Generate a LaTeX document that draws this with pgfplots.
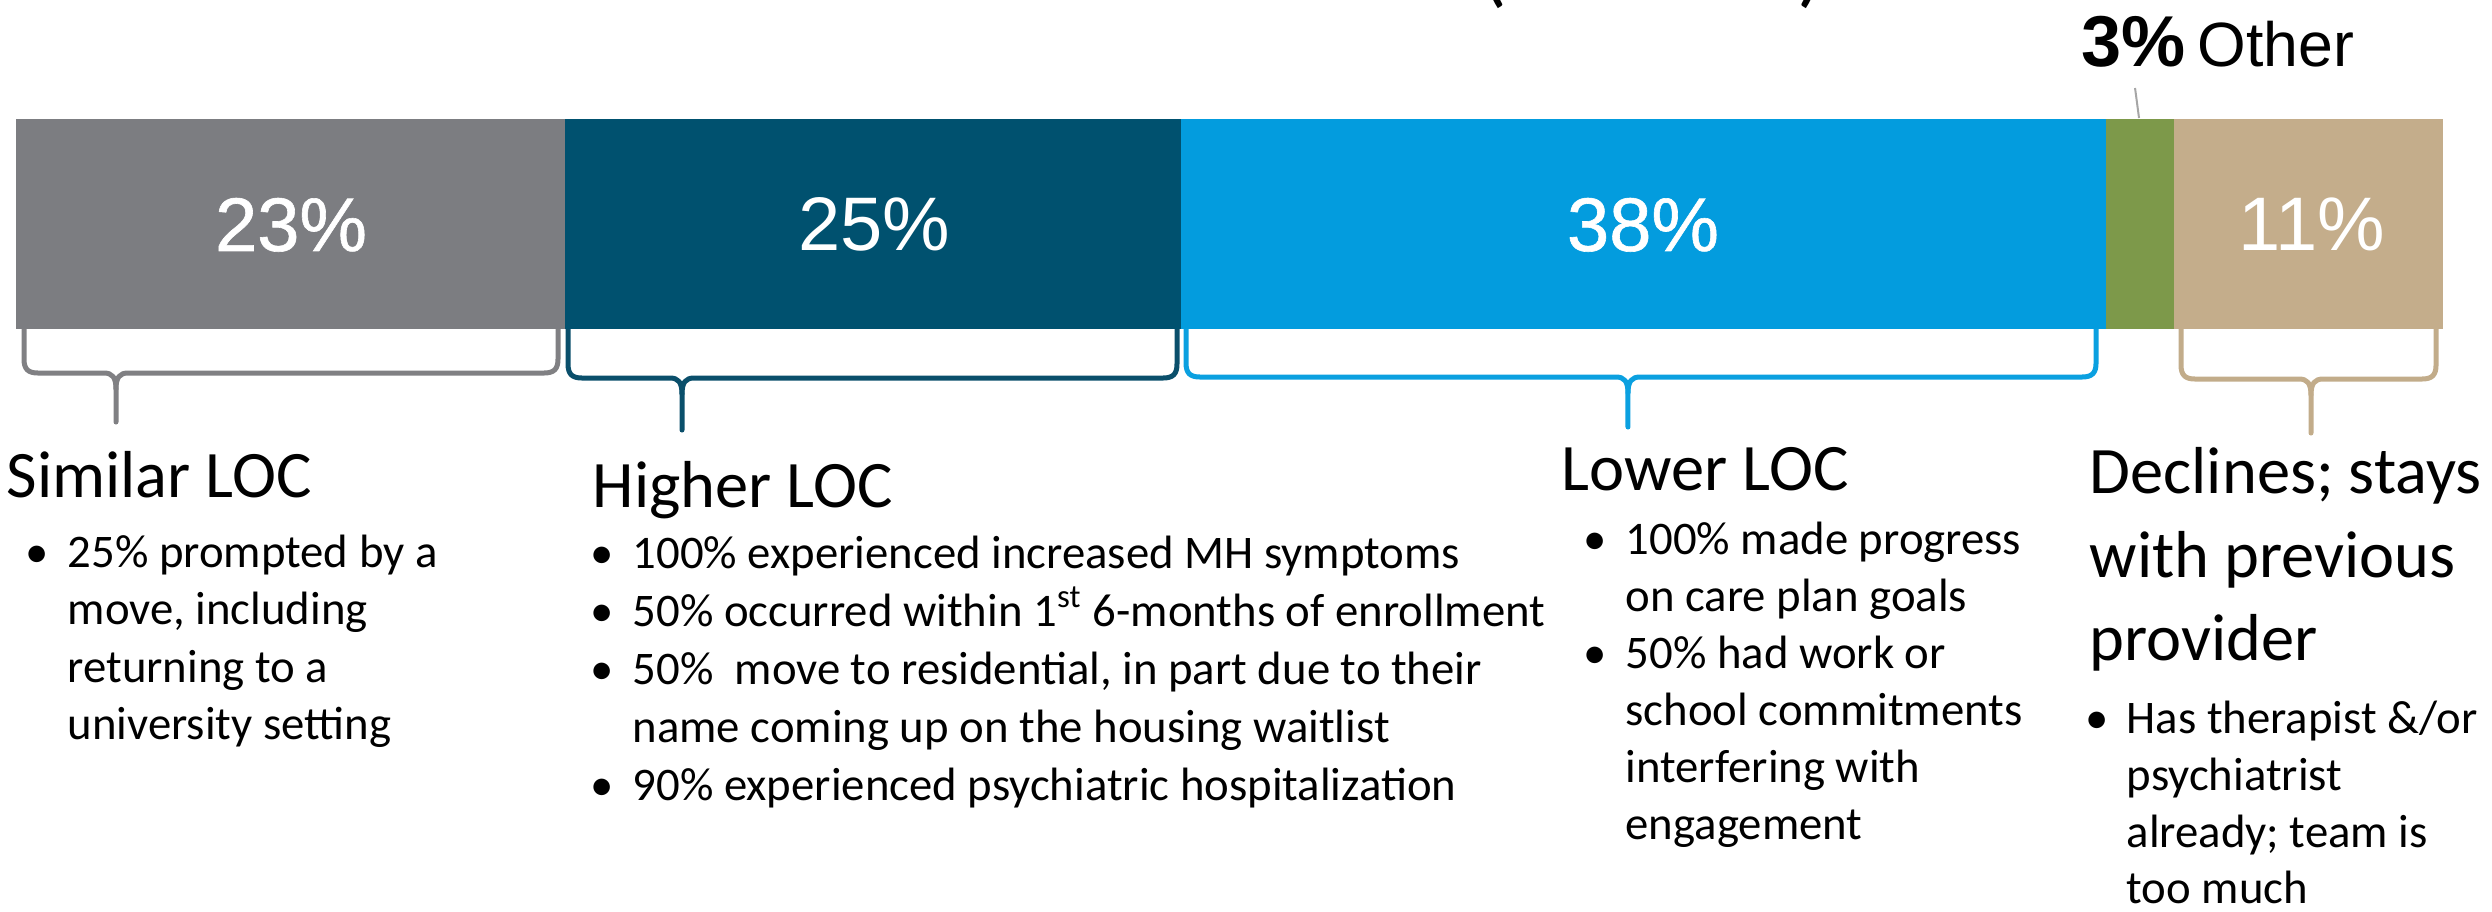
\documentclass[border=0pt]{standalone}
\usepackage{pgfplots}
\pgfplotsset{compat=1.18}
\usepackage{fontspec}
\setmainfont{Carlito}
\newfontfamily\arialf{Liberation Sans}
\newfontfamily\arialmed[FakeBold=0.8]{Liberation Sans}
\definecolor{cgray}{HTML}{7C7D81}
\definecolor{cteal}{HTML}{00516F}
\definecolor{cblue}{HTML}{039CDE}
\definecolor{cgreen}{HTML}{7D994A}
\definecolor{ctan}{HTML}{C4AD8B}
\definecolor{bgray}{HTML}{808083}
\definecolor{bteal}{HTML}{0A4F6B}
\definecolor{bblue}{HTML}{0BA0E0}
\definecolor{btan}{HTML}{C2AC8A}
% convert a pixel x position to axis (percent) units
\newcommand\px[1]{((#1)-16)/24.27}
\newcommand\hdr{\fontsize{18.9pt}{23.7pt}\selectfont}
\newcommand\bul{\fontsize{13.3pt}{16.3pt}\selectfont}
% brace: xl, xr, xtip, yh, ytip, colour
\newcommand\brc[6]{%
  \draw[#6, line width=0.5mm, line join=round, line cap=round]
    ({\px{#1}},329) -- ({\px{#1}},{#4-14})
    .. controls ({\px{#1}},{#4-4}) and ({\px{#1+4}},#4) .. ({\px{#1+14}},#4)
    -- ({\px{#3-12}},#4)
    .. controls ({\px{#3-4}},#4) and ({\px{#3}},{#4+4}) .. ({\px{#3}},{#4+16})
    -- ({\px{#3}},#5);
  \draw[#6, line width=0.5mm, line join=round, line cap=round]
    ({\px{#3}},{#4+16})
    .. controls ({\px{#3}},{#4+4}) and ({\px{#3+4}},#4) .. ({\px{#3+12}},#4)
    -- ({\px{#2-14}},#4)
    .. controls ({\px{#2-4}},#4) and ({\px{#2}},{#4-4}) .. ({\px{#2}},{#4-14})
    -- ({\px{#2}},329);}
\newcommand\lineat[3]{\node[anchor=base west,inner sep=0pt,font=\bul] at ({\px{#1}},#2) {#3};}
\newcommand\hd[3]{\node[anchor=base west,inner sep=0pt,font=\hdr] at ({\px{#1}},#2) {#3};}
\newcommand\bt[2]{\node[anchor=base,inner sep=0pt,font=\bul] at ({\px{#1}},#2) {\textbullet};}
\tikzset{pctlab/.style={anchor=base,inner sep=0pt,text=white,font={\arialf\fontsize{21.6pt}{24pt}\selectfont}},
         pctmed/.style={anchor=base,inner sep=0pt,text=white,font={\arialmed\fontsize{21.6pt}{24pt}\selectfont}}}
\begin{document}
\begin{tikzpicture}
\begin{axis}[
  name=main,
  width=249.2mm, height=91.1mm, scale only axis,
  hide axis, clip=false,
  xmin=-0.6593, xmax=102.0189,
  ymin=0, ymax=911, y dir=reverse,
  xbar stacked, bar width=210,
]
\addplot[fill=cgray, draw=none]  coordinates {(22.6,224)};
\addplot[fill=cteal, draw=none]  coordinates {(25.4,224)};
\addplot[fill=cblue, draw=none]  coordinates {(38.1,224)};
\addplot[fill=cgreen, draw=none] coordinates {(2.8,224)};
\addplot[fill=ctan, draw=none]   coordinates {(11.1,224)};

% anchor points for the percentages in the bar (drawn after the axis)
\coordinate (p1) at ({\px{291}},251);
\coordinate (p2) at ({\px{874}},251);
\coordinate (p3) at ({\px{1643}},251);
\coordinate (p4) at ({\px{2312}},251);

% 3% Other
\node[anchor=base west,inner sep=0pt,font={\arialf\bfseries\fontsize{20.5pt}{24pt}\selectfont}] at ({\px{2081}},66) {3\%};
\node[anchor=base west,inner sep=0pt,font={\arialf\fontsize{17.8pt}{20pt}\selectfont}] at ({\px{2197}},66) {Other};
\draw[black!35, line width=0.2mm] ({\px{2135}},88) -- ({\px{2139}},118);

% cut-off parentheses at top
\node[anchor=base,inner sep=0pt,font={\fontsize{25pt}{28pt}\selectfont}] at ({\px{1494}},-4) {(};
\node[anchor=base,inner sep=0pt,font={\fontsize{25pt}{28pt}\selectfont}] at ({\px{1811}},-4) {)};

% braces
\brc{24}{558}{116}{373}{422}{bgray}
\brc{568}{1177}{682}{378}{430}{bteal}
\brc{1186}{2096}{1628}{377}{427}{bblue}
\brc{2181}{2436}{2311}{379}{433}{btan}

% Similar LOC
\hd{6}{497}{Similar LOC}
\bt{37}{567}
\lineat{67}{567}{25\% prompted by a}
\lineat{67}{624.5}{move, including}
\lineat{67}{682}{returning to a}
\lineat{67}{739.5}{university setting}

% Higher LOC
\hd{592}{507}{Higher LOC}
\bt{602}{568}
\lineat{632}{568}{100\% experienced increased MH symptoms}
\bt{602}{626}
\lineat{632}{626}{50\% occurred within 1\textsuperscript{st} 6-months of enrollment}
\bt{602}{684}
\lineat{632}{684}{50\%~ move to residential, in part due to their}
\lineat{632}{742}{name coming up on the housing waitlist}
\bt{602}{800}
\lineat{632}{800}{90\% experienced psychiatric hospitalization}

% Lower LOC
\hd{1561}{490}{Lower LOC}
\bt{1595}{554}
\lineat{1625}{554}{100\% made progress}
\lineat{1625}{611}{on care plan goals}
\bt{1595}{668}
\lineat{1625}{668}{50\% had work or}
\lineat{1625}{725}{school commitments}
\lineat{1625}{782}{interfering with}
\lineat{1625}{839}{engagement}

% Declines
\hd{2089}{493}{Declines; stays}
\hd{2089}{577}{with previous}
\hd{2089}{660}{provider}
\bt{2097}{733}
\lineat{2126}{733}{Has therapist \&/or}
\lineat{2126}{790}{psychiatrist}
\lineat{2126}{847}{already; team is}
\lineat{2126}{903}{too much}
\end{axis}
\node[pctmed] at (p1) {23\%};
\node[pctlab] at (p2) {25\%};
\node[pctmed] at (p3) {38\%};
\node[pctlab] at (p4) {11\%};
\pgfresetboundingbox
\path[use as bounding box] (main.south west) rectangle (main.north east);
\end{tikzpicture}
\end{document}
